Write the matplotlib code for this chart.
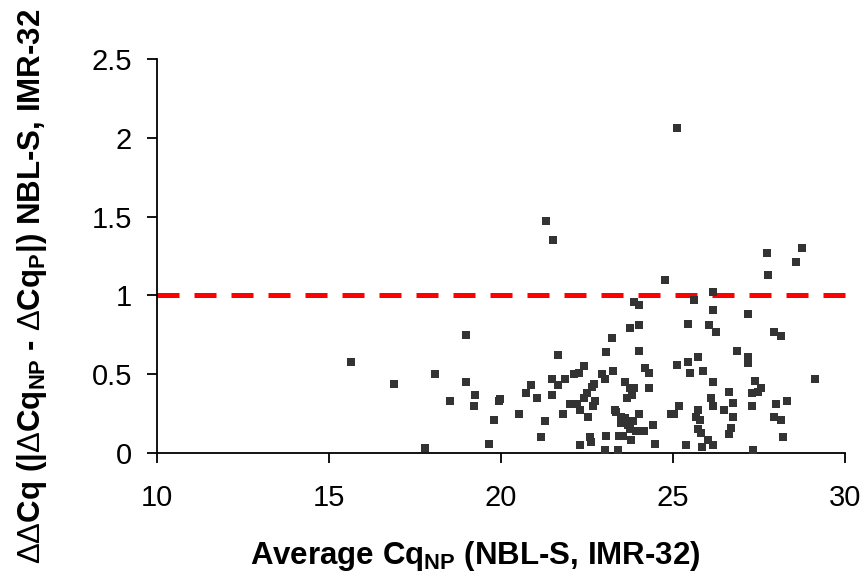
import numpy as np
import matplotlib
matplotlib.use("Agg")
import matplotlib.pyplot as plt

# average Cq (NP) vs ddCq
avg_cq = [15.63, 16.88, 17.79, 18.08, 18.51, 18.99, 18.99, 19.25, 19.21, 19.65,
          19.79, 19.95, 19.97, 20.51, 20.74, 20.88, 21.04, 21.17, 21.27, 21.31,
          21.52, 21.49, 21.49, 21.65, 21.67, 21.81, 21.86, 22.00, 22.12, 22.20,
          22.26, 22.29, 22.31, 22.42, 22.42, 22.50, 22.53, 22.60, 22.62, 22.64,
          22.66, 22.69, 22.72, 22.95, 23.01, 23.06, 23.06, 23.03, 23.22, 23.27,
          23.30, 23.35, 23.40, 23.43, 23.49, 23.49, 23.56, 23.60, 23.60, 23.66,
          23.70, 23.75, 23.75, 23.75, 23.78, 23.80, 23.83, 23.88, 23.88, 23.91,
          24.02, 24.02, 24.02, 24.02, 24.15, 24.20, 24.29, 24.31, 24.41, 24.47,
          24.76, 24.95, 25.03, 25.11, 25.11, 25.18, 25.38, 25.45, 25.45, 25.50,
          25.61, 25.67, 25.72, 25.72, 25.74, 25.79, 25.80, 25.83, 25.88, 26.03,
          26.04, 26.10, 26.15, 26.15, 26.15, 26.15, 26.17, 26.26, 26.49, 26.63,
          26.63, 26.70, 26.75, 26.75, 26.86, 27.18, 27.18, 27.18, 27.31, 27.31,
          27.34, 27.39, 27.47, 27.56, 27.72, 27.77, 27.95, 28.00, 27.95, 28.15,
          28.15, 28.21, 28.32, 28.59, 28.75, 29.13]
ddcq = [0.58, 0.44, 0.03, 0.50, 0.33, 0.75, 0.45, 0.37, 0.30, 0.06,
        0.21, 0.33, 0.34, 0.25, 0.38, 0.43, 0.35, 0.10, 0.20, 1.47,
        1.35, 0.47, 0.37, 0.43, 0.62, 0.25, 0.47, 0.31, 0.50, 0.31,
        0.51, 0.05, 0.27, 0.55, 0.35, 0.38, 0.23, 0.10, 0.07, 0.42,
        0.30, 0.44, 0.33, 0.50, 0.47, 0.64, 0.11, 0.02, 0.73, 0.52,
        0.27, 0.26, 0.02, 0.11, 0.23, 0.19, 0.11, 0.45, 0.22, 0.35,
        0.18, 0.79, 0.41, 0.15, 0.08, 0.37, 0.20, 0.96, 0.41, 0.14,
        0.94, 0.81, 0.65, 0.25, 0.14, 0.54, 0.51, 0.41, 0.18, 0.06,
        1.10, 0.25, 0.25, 0.56, 2.06, 0.30, 0.05, 0.82, 0.58, 0.51,
        0.97, 0.23, 0.61, 0.27, 0.15, 0.21, 0.13, 0.04, 0.52, 0.08,
        0.81, 0.35, 0.45, 0.91, 1.02, 0.05, 0.30, 0.77, 0.27, 0.39,
        0.12, 0.16, 0.32, 0.23, 0.65, 0.88, 0.61, 0.57, 0.38, 0.30,
        0.02, 0.46, 0.39, 0.41, 1.27, 1.13, 0.77, 0.31, 0.23, 0.74,
        0.21, 0.10, 0.33, 1.21, 1.30, 0.47]
cutoff = 1.0

plt.rcParams['font.family'] = ['Liberation Sans', 'DejaVu Sans']
plt.rcParams['mathtext.fontset'] = 'custom'
plt.rcParams['mathtext.rm'] = 'Liberation Sans'

fig = plt.figure(figsize=(8.64, 5.75), dpi=100)
ax = fig.add_axes([157/864, 1-453/575, (845-157)/864, (453-59)/575])

ax.scatter(avg_cq, ddcq, marker='s', s=26, color='#333333', linewidths=0, zorder=3)
ax.plot([0, 1.013], [cutoff, cutoff], transform=ax.get_yaxis_transform(),
        color='#ff0000', lw=3.6, dashes=(4.4, 3.0), clip_on=False, zorder=2)

ax.set_xlim(10, 30)
ax.set_ylim(0, 2.5)
ax.set_xticks([10, 15, 20, 25, 30])
ax.set_yticks([0, 0.5, 1, 1.5, 2, 2.5])
ax.set_yticklabels(['0', '0.5', '1', '1.5', '2', '2.5'])

for s in ['top', 'right']:
    ax.spines[s].set_visible(False)
for s in ['left', 'bottom']:
    ax.spines[s].set_linewidth(1.3)
ax.tick_params(axis='both', direction='out', length=7, width=1.3, labelsize=21)
ax.tick_params(axis='x', pad=15)
ax.tick_params(axis='y', pad=11)

fig.text(475/864, 1-564/575, r'Average Cq$_{\mathregular{NP}}$ (NBL-S, IMR-32)',
         fontsize=22.5, fontweight='bold', ha='center', va='baseline')
fig.text(32/864, 1-286/575,
         r'$\mathrm{\Delta\Delta}$Cq (|$\mathrm{\Delta}$Cq$_{\mathregular{NP}}$ - '
         r'$\mathrm{\Delta}$Cq$_{\mathregular{P}}$|) NBL-S, IMR-32',
         fontsize=22.5, fontweight='bold', rotation=90, ha='center', va='center')

fig.savefig('out.png', dpi=100)
